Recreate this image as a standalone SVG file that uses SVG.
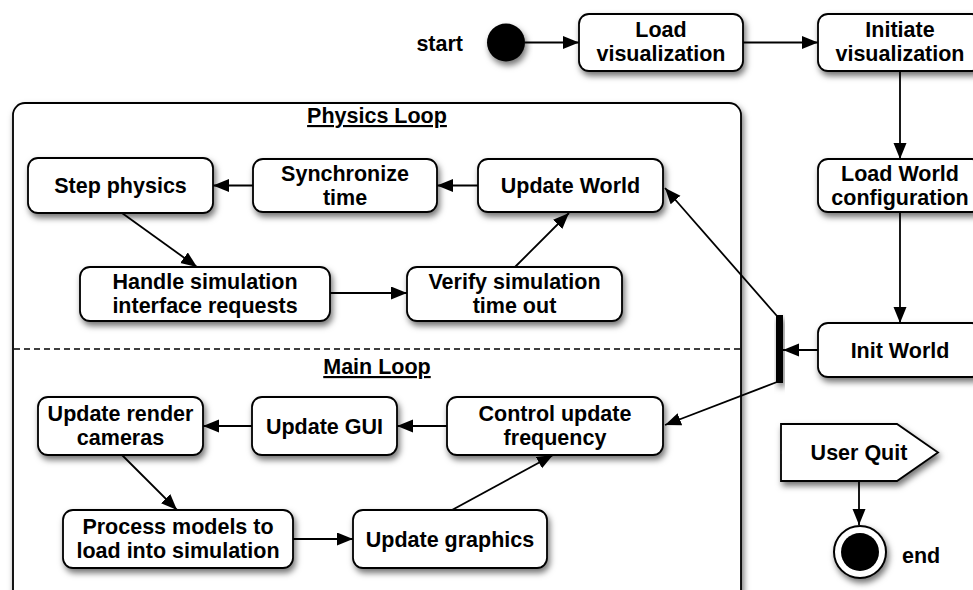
<svg xmlns="http://www.w3.org/2000/svg" width="973" height="590" viewBox="0 0 973 590">
<style>
text{font-family:"Liberation Sans",Arial,Helvetica,sans-serif;font-weight:bold;font-size:21.5px;fill:#000;text-anchor:middle}
.box{fill:#fff;stroke:#000;stroke-width:1.8}
.c{fill:none;stroke:#000;stroke-width:1.8}
.t{text-decoration:underline}
</style>
<defs>
<filter id="sh" x="-20%" y="-20%" width="140%" height="160%">
<feDropShadow dx="2" dy="4" stdDeviation="3" flood-color="#000" flood-opacity="0.55"/>
</filter>
<marker id="ah" markerUnits="userSpaceOnUse" markerWidth="17" markerHeight="14" refX="16" refY="6.5" orient="auto">
<path d="M0,0 L16,6.5 L0,13 z" fill="#000"/>
</marker>
</defs>
<rect width="973" height="590" fill="#fff"/>

<g id="loop-frame">
<rect x="13" y="103" width="728" height="530" rx="12" class="box" stroke-width="2" filter="url(#sh)"/>
<line x1="14" y1="349" x2="740" y2="349" stroke="#000" stroke-width="1.5" stroke-dasharray="6,4"/>
<text x="377" y="123" class="t">Physics Loop</text>
<text x="377" y="374" class="t">Main Loop</text>
</g>

<g id="connectors">
<line x1="525" y1="42.5" x2="579" y2="42.5" class="c" marker-end="url(#ah)"/>
<line x1="743" y1="42.5" x2="818" y2="42.5" class="c" marker-end="url(#ah)"/>
<line x1="900" y1="71" x2="900" y2="159" class="c" marker-end="url(#ah)"/>
<line x1="900" y1="212" x2="900" y2="323" class="c" marker-end="url(#ah)"/>
<line x1="818" y1="350" x2="783" y2="350" class="c" marker-end="url(#ah)"/>
<line x1="777" y1="316" x2="665" y2="188" class="c" marker-end="url(#ah)"/>
<line x1="777" y1="382" x2="665" y2="425" class="c" marker-end="url(#ah)"/>
<line x1="478" y1="185.5" x2="437" y2="185.5" class="c" marker-end="url(#ah)"/>
<line x1="253" y1="185.5" x2="213" y2="185.5" class="c" marker-end="url(#ah)"/>
<line x1="122" y1="213" x2="197" y2="267" class="c" marker-end="url(#ah)"/>
<line x1="330" y1="293" x2="407" y2="293" class="c" marker-end="url(#ah)"/>
<line x1="515" y1="267" x2="569" y2="213" class="c" marker-end="url(#ah)"/>
<line x1="447" y1="426" x2="397" y2="426" class="c" marker-end="url(#ah)"/>
<line x1="252" y1="426" x2="203" y2="426" class="c" marker-end="url(#ah)"/>
<line x1="122" y1="455" x2="177" y2="510" class="c" marker-end="url(#ah)"/>
<line x1="293" y1="539" x2="353" y2="539" class="c" marker-end="url(#ah)"/>
<line x1="452" y1="510" x2="553" y2="455" class="c" marker-end="url(#ah)"/>
<line x1="859" y1="481" x2="859" y2="525" class="c" marker-end="url(#ah)"/>
</g>

<g id="start">
<text x="463" y="51" style="text-anchor:end">start</text>
<circle cx="506" cy="42.5" r="19" fill="#000" filter="url(#sh)"/>
</g>

<g id="load-visualization">
<rect x="579" y="14" width="164" height="57" rx="10" class="box" filter="url(#sh)"/>
<text x="661" y="37">Load</text>
<text x="661" y="61">visualization</text>
</g>

<g id="initiate-visualization">
<rect x="818" y="14" width="164" height="57" rx="10" class="box" filter="url(#sh)"/>
<text x="900" y="37">Initiate</text>
<text x="900" y="61">visualization</text>
</g>

<g id="load-world-configuration">
<rect x="818" y="159" width="164" height="53" rx="10" class="box" filter="url(#sh)"/>
<text x="900" y="180.5">Load World</text>
<text x="900" y="204.5">configuration</text>
</g>

<g id="init-world">
<rect x="818" y="323" width="164" height="54" rx="10" class="box" filter="url(#sh)"/>
<text x="900" y="357.5">Init World</text>
</g>

<g id="fork">
<rect x="776" y="315" width="7" height="68" fill="#000" filter="url(#sh)"/>
</g>

<g id="user-quit">
<path d="M781,424 L897,424 L938,452.5 L897,481 L781,481 Z" class="box" filter="url(#sh)"/>
<text x="859" y="460">User Quit</text>
</g>

<g id="end">
<circle cx="860" cy="552" r="26" fill="#fff" stroke="#000" stroke-width="2" filter="url(#sh)"/>
<circle cx="860" cy="552" r="19" fill="#000"/>
<text x="902" y="563" style="text-anchor:start">end</text>
</g>

<g id="step-physics">
<rect x="28" y="158" width="185" height="55" rx="10" class="box" filter="url(#sh)"/>
<text x="120.5" y="193">Step physics</text>
</g>

<g id="synchronize-time">
<rect x="253" y="159" width="184" height="53" rx="10" class="box" filter="url(#sh)"/>
<text x="345" y="180.5">Synchronize</text>
<text x="345" y="204.5">time</text>
</g>

<g id="update-world">
<rect x="478" y="159" width="185" height="53" rx="10" class="box" filter="url(#sh)"/>
<text x="570.5" y="193">Update World</text>
</g>

<g id="handle-requests">
<rect x="80" y="267" width="250" height="54" rx="10" class="box" filter="url(#sh)"/>
<text x="205" y="289">Handle simulation</text>
<text x="205" y="313">interface requests</text>
</g>

<g id="verify-timeout">
<rect x="407" y="267" width="215" height="54" rx="10" class="box" filter="url(#sh)"/>
<text x="514.5" y="289">Verify simulation</text>
<text x="514.5" y="313">time out</text>
</g>

<g id="update-render-cameras">
<rect x="38" y="397" width="165" height="58" rx="10" class="box" filter="url(#sh)"/>
<text x="120.5" y="421">Update render</text>
<text x="120.5" y="445">cameras</text>
</g>

<g id="update-gui">
<rect x="252" y="397" width="145" height="58" rx="10" class="box" filter="url(#sh)"/>
<text x="324.5" y="433.5">Update GUI</text>
</g>

<g id="control-update-frequency">
<rect x="447" y="397" width="216" height="58" rx="10" class="box" filter="url(#sh)"/>
<text x="555" y="421">Control update</text>
<text x="555" y="445">frequency</text>
</g>

<g id="process-models">
<rect x="63" y="510" width="230" height="58" rx="10" class="box" filter="url(#sh)"/>
<text x="178" y="534">Process models to</text>
<text x="178" y="558">load into simulation</text>
</g>

<g id="update-graphics">
<rect x="353" y="510" width="194" height="58" rx="10" class="box" filter="url(#sh)"/>
<text x="450" y="546.5">Update graphics</text>
</g>
</svg>
